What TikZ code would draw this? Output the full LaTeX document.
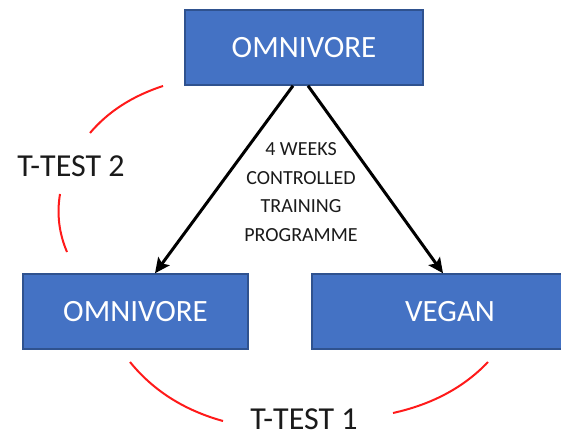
\documentclass[tikz,border=0pt]{standalone}
\usepackage{fontspec}
\setmainfont{Carlito}
\usetikzlibrary{arrows.meta,calc}
\definecolor{boxfill}{HTML}{4472C4}
\definecolor{boxline}{HTML}{2F528F}
\definecolor{txt}{HTML}{1A1A1A}
\definecolor{arcred}{HTML}{FF1A1A}
\begin{document}
\begin{tikzpicture}[x=1pt,y=-1pt,
  groupbox/.style={draw=boxline,fill=boxfill,line width=1.5pt,minimum height=75pt,
    inner sep=0pt,text=white,font=\fontsize{31}{37}\selectfont},
  arr/.style={line width=3pt,-{Stealth[length=15pt,width=14pt,inset=3pt]}},
  testarc/.style={draw=arcred,line width=2pt},
  testlabel/.style={text=txt,font=\fontsize{32}{38}\selectfont,inner sep=0pt}]
\useasboundingbox (0,0) rectangle (561,438);
\node[groupbox,minimum width=238pt] (top) at (304,47.5) {OMNIVORE};
\node[groupbox,minimum width=225pt] (left) at (135.5,311.5) {OMNIVORE};
\node[groupbox,minimum width=276pt] (right) at (450,311.5) {VEGAN};
\node[text=txt,align=center,font=\fontsize{20}{28.5}\selectfont,inner sep=0pt] (mid) at (301,192)
  {4 WEEKS\\CONTROLLED\\TRAINING\\PROGRAMME};
\draw[arr] ($(top.south)+(-11,0)$) -- ($(left.north)+(19.5,0)$);
\draw[arr] ($(top.south)+(4,0)$) -- ($(right.north)+(-7,0)$);
\node[testlabel] (t2) at (71,166) {T-TEST 2};
\node[testlabel] (t1) at (304,419) {T-TEST 1};
\coordinate (a1s) at (130,362); \coordinate (a1e) at (223,421);
\coordinate (a2s) at (393,413); \coordinate (a2e) at (488,362);
\coordinate (a3s) at (90,133); \coordinate (a3e) at (163,86);
\coordinate (a4s) at (60,194); \coordinate (a4e) at (67,252);
\draw[testarc] (a1s) .. controls (153.3,390.7) and (184.3,410.3) .. (a1e);
\draw[testarc] (a2s) .. controls (432.3,404.3) and (464,387.3) .. (a2e);
\draw[testarc] (a3s) .. controls (108,111.7) and (132.3,96) .. (a3e);
\draw[testarc] (a4s) .. controls (56.7,214) and (59,233.3) .. (a4e);
\end{tikzpicture}
\end{document}
